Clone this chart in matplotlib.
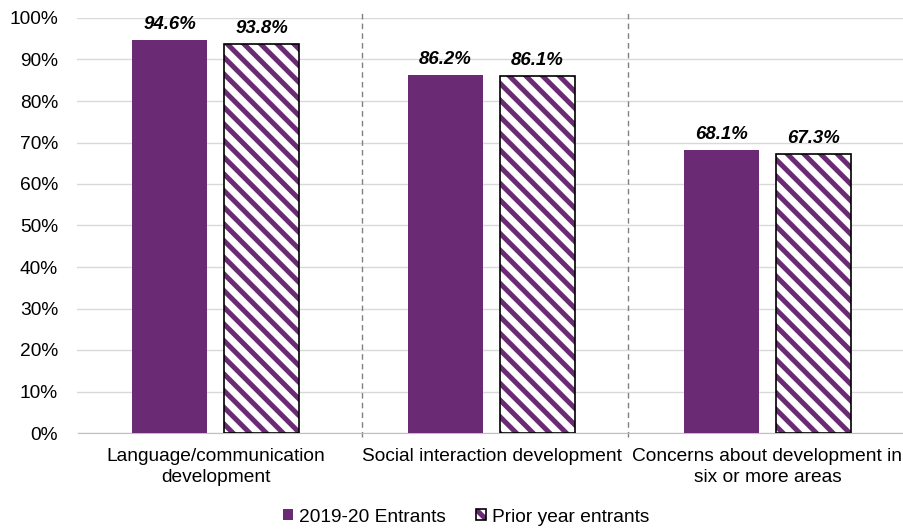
import matplotlib
matplotlib.use("Agg")
import matplotlib.pyplot as plt
from matplotlib.patches import Patch
import numpy as np

# data
categories = ["Language/communication\ndevelopment",
              "Social interaction development",
              "Concerns about development in\nsix or more areas"]
entrants_2019 = [94.6, 86.2, 68.1]
prior_year = [93.8, 86.1, 67.3]
series_names = ["2019-20 Entrants", "Prior year entrants"]
y_ticks = [0, 10, 20, 30, 40, 50, 60, 70, 80, 90, 100]
separators = [0.531, 1.495]

purple = "#6B2A74"
plt.rcParams["font.family"] = ["Liberation Sans", "DejaVu Sans"]
plt.rcParams["hatch.linewidth"] = 3.6

fig = plt.figure(figsize=(9.04, 5.29), dpi=100)
ax = fig.add_axes([77.5 / 904, 96 / 529, 828 / 904, 415 / 529])

x = np.arange(len(categories))
w = 0.272
off = 0.1667

ax.bar(x - off, entrants_2019, w, color=purple, zorder=3)
# hatched bars: stripes first, then a black outline on top
ax.bar(x + off, prior_year, w, facecolor="white", edgecolor=purple,
       hatch="\\\\", linewidth=0, zorder=3)
ax.bar(x + off, prior_year, w, facecolor="none", edgecolor="black",
       linewidth=1.2, zorder=4)

for xi, v in zip(x - off, entrants_2019):
    ax.annotate(f"{v:.1f}%", (xi, v), xytext=(0, 5), textcoords="offset points",
                ha="center", va="bottom", fontsize=13.4,
                fontweight="bold", fontstyle="italic")
for xi, v in zip(x + off, prior_year):
    ax.annotate(f"{v:.1f}%", (xi, v), xytext=(0, 5), textcoords="offset points",
                ha="center", va="bottom", fontsize=13.4,
                fontweight="bold", fontstyle="italic")

for s in separators:
    ax.axvline(s, ymin=-0.01, ymax=1.02, color="#808080", lw=1,
               ls=(0, (4, 3)), clip_on=False, zorder=2)

ax.set_xlim(-0.5, 2.5)
ax.set_ylim(0, 100)
ax.set_yticks(y_ticks)
ax.set_yticklabels([f"{t}%" for t in y_ticks])
ax.set_xticks(x)
ax.set_xticklabels(categories, linespacing=1.3)
ax.tick_params(axis="y", length=0, pad=14, labelsize=13.8)
ax.tick_params(axis="x", length=0, pad=11, labelsize=13.8)
ax.grid(axis="y", color="#D9D9D9", lw=1, zorder=0)
ax.set_axisbelow(True)
for sp in ["top", "right", "left"]:
    ax.spines[sp].set_visible(False)
ax.spines["bottom"].set_color("#BFBFBF")

h1 = Patch(facecolor=purple, edgecolor="none")
h2a = Patch(facecolor="white", edgecolor=purple, hatch="\\\\", linewidth=0)
h2b = Patch(facecolor="none", edgecolor="black", linewidth=1.2)
fig.legend([h1, (h2a, h2b)], series_names, loc="center",
           bbox_to_anchor=(466 / 904, 1 - 517 / 529), ncol=2, frameon=False,
           fontsize=13.8, handlelength=0.55, handleheight=0.55,
           handletextpad=0.3, columnspacing=1.55)

fig.savefig("out.png", dpi=100)
